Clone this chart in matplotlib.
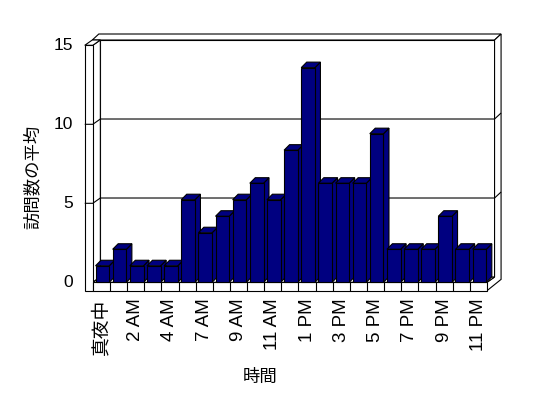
import matplotlib
matplotlib.use("Agg")
import matplotlib.pyplot as plt
from matplotlib.patches import Polygon

plt.rcParams['font.family'] = ['Liberation Sans', 'Noto Sans CJK JP']

# data: average visits per hour (5 AM has no entry)
hours = ['真夜中', '1 AM', '2 AM', '3 AM', '4 AM', '6 AM', '7 AM', '8 AM', '9 AM',
         '10 AM', '11 AM', '12 PM', '1 PM', '2 PM', '3 PM', '4 PM', '5 PM',
         '6 PM', '7 PM', '8 PM', '9 PM', '10 PM', '11 PM']
visits = [1, 2, 1, 1, 1, 5, 3, 4, 5, 6, 5, 8, 13, 6, 6, 6, 9, 2, 2, 2, 4, 2, 2]
y_ticks = [0, 5, 10, 15]
y_label = '訪問数の平均'
x_label = '時間'

NAVY = '#000080'
LW = 0.8
N = len(hours)
YMAX = y_ticks[-1]

# 3d look, in data units (1 category wide, 1 visit high)
DX, DY = 0.44, 0.335        # floor depth
TX = 0.47                   # left wall thickness
BX, BY = 0.38, 0.38         # back wall thickness
FT = 0.53                   # floor thickness
INS, BW = 0.16, 0.8         # bar inset / front width
BDX, BDY = 0.32, 0.35       # bar depth
PERSP = 1.045               # bars sit a bit in front of the wall plane

fig = plt.figure(figsize=(5.48, 3.98), dpi=100)
ax = fig.add_axes([0, 0, 1, 1])
cw, ch = 17.14, 15.8        # pixels per category / per unit
x0, y0 = 92.8, 282.3
ax.set_xlim(-x0 / cw, (548 - x0) / cw)
ax.set_ylim(-(398 - y0) / ch, y0 / ch)
ax.axis('off')


def poly(pts, fc='white', z=1):
    ax.add_patch(Polygon(pts, closed=True, facecolor=fc, edgecolor='black',
                         linewidth=LW, zorder=z, joinstyle='miter'))


def line(xs, ys, z=2):
    ax.plot(xs, ys, color='black', linewidth=LW, zorder=z, solid_capstyle='butt')


# back wall: front face, top and right thickness
poly([(DX, DY), (N + DX, DY), (N + DX, YMAX + DY), (DX, YMAX + DY)])
poly([(DX - TX, YMAX + DY), (N + DX, YMAX + DY),
      (N + DX + BX, YMAX + DY + BY), (DX - TX + BX, YMAX + DY + BY)])
poly([(N + DX, DY), (N + DX, YMAX + DY), (N + DX + BX, YMAX + DY + BY),
      (N + DX + BX, DY + BY - FT), (N, -FT), (N, 0)])

# left wall: inner side, top, front edge
poly([(0, 0), (DX, DY), (DX, YMAX + DY), (0, YMAX)])
poly([(-TX, YMAX), (0, YMAX), (DX, YMAX + DY), (DX - TX, YMAX + DY)])
poly([(-TX, -FT), (0, -FT), (0, YMAX), (-TX, YMAX)], z=1.5)

# floor: top and front edge
poly([(0, 0), (N, 0), (N + DX, DY), (DX, DY)])
poly([(0, -FT), (N, -FT), (N, 0), (0, 0)], z=1.5)
for k in range(1, N):
    line([k, k], [-FT, 0], z=1.6)

# gridlines on walls
for v in y_ticks[1:-1]:
    line([DX, N + DX, N + DX + BX], [v + DY, v + DY, v + DY + BY])
    line([-TX, 0, DX], [v, v, v + DY])

# bars, left to right so each front hides the previous side
for i, v in enumerate(visits):
    h = v * PERSP
    xl = i + INS
    xr = xl + BW
    z = 3 + i * 0.01
    poly([(xr, 0), (xr + BDX, BDY), (xr + BDX, h + BDY), (xr, h)], NAVY, z)
    poly([(xl, h), (xr, h), (xr + BDX, h + BDY), (xl + BDX, h + BDY)], NAVY, z)
    poly([(xl, 0), (xr, 0), (xr, h), (xl, h)], NAVY, z + 0.001)

# tick labels
for v in y_ticks:
    ax.text(-TX - 0.68, v, str(v), ha='right', va='center', fontsize=12.5)
for i in range(0, N, 2):
    ax.text(i + 0.5, -FT - 0.5, hours[i], rotation=90, ha='center', va='top',
            fontsize=13.5)

fig.text(260 / 548, 1 - 377 / 398, x_label, ha='center', va='center', fontsize=12.5)
fig.text(32 / 548, 1 - 177 / 398, y_label, ha='center', va='center',
         rotation=90, fontsize=12.5)

fig.savefig('out.png', dpi=100, facecolor='white')
